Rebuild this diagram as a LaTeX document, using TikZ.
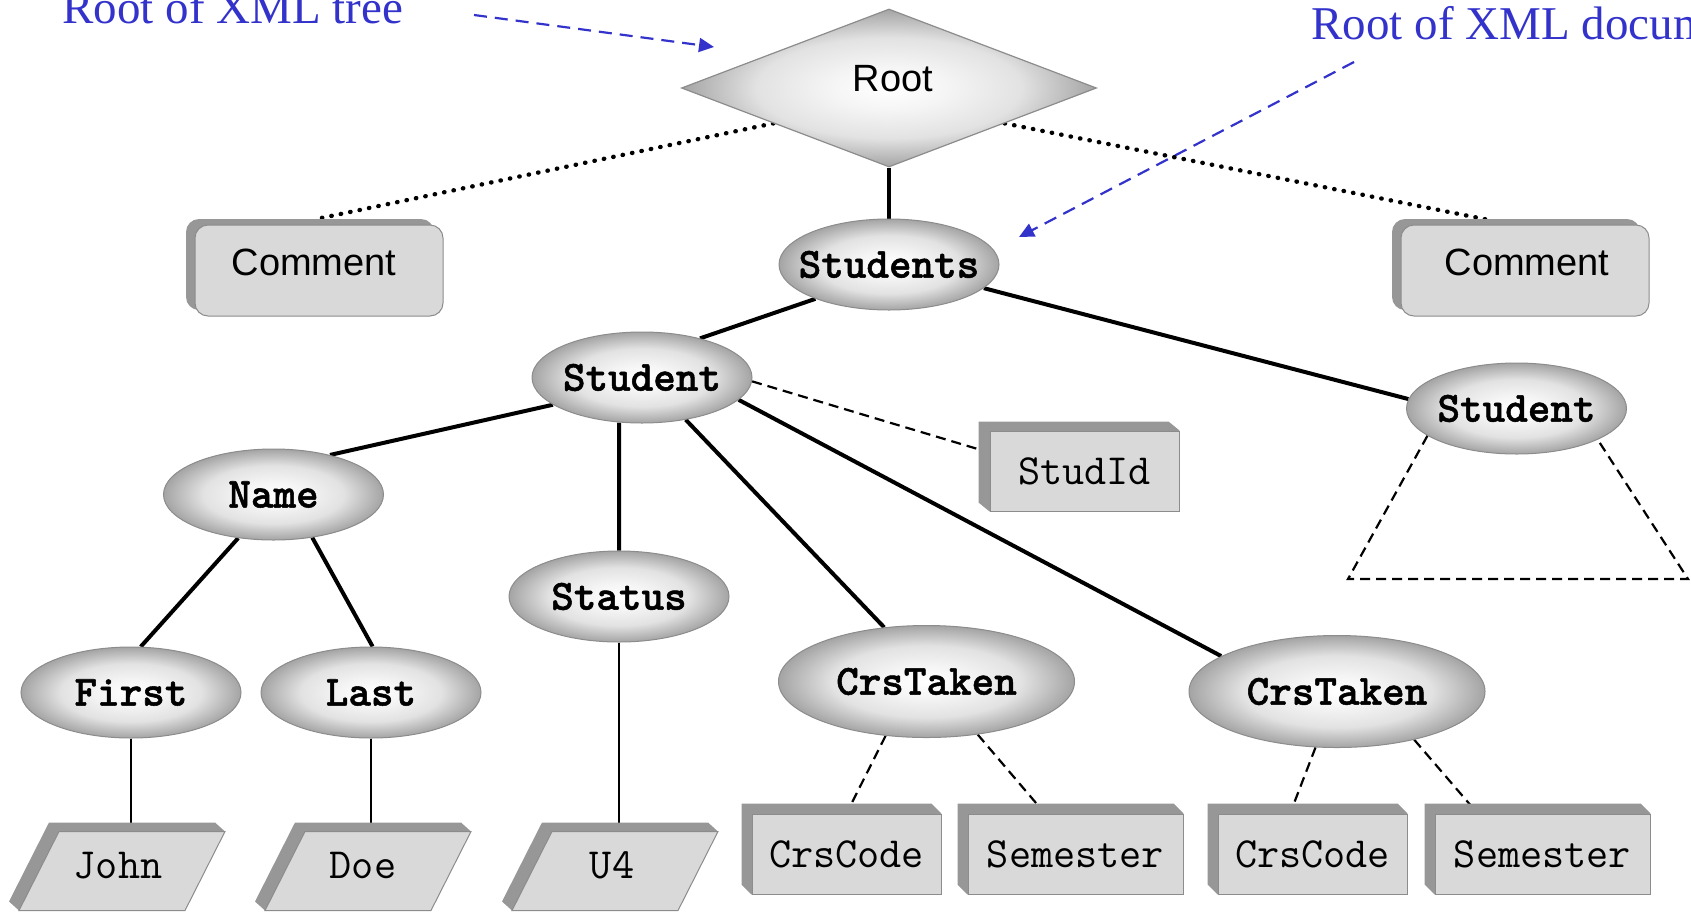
\documentclass[tikz,border=0pt]{standalone}
\usepackage{fontspec}
\usetikzlibrary{shapes.geometric,arrows.meta,shadows}
\newfontfamily\helvfont{Liberation Sans}
\newfontfamily\annotfont{Liberation Serif}
\newfontfamily\elemfont[FakeBold=1.2]{lmmonolt10-bold.otf}
\definecolor{boxgray}{HTML}{D9D9D9}
\definecolor{shadowgray}{HTML}{979797}
\definecolor{edgegray}{HTML}{8C8C8C}
\definecolor{annotblue}{RGB}{51,51,204}
\definecolor{elemouter}{HTML}{A4A4A4}
\definecolor{elemmid}{HTML}{E2E2E2}
\pgfdeclareradialshading{elemshade}{\pgfpoint{0bp}{0bp}}{color(0bp)=(white); color(7bp)=(white!96!black); color(16bp)=(elemmid); color(25bp)=(elemouter); color(50bp)=(elemouter)}
\pgfdeclarelayer{bg}
\pgfdeclarelayer{shd}
\pgfsetlayers{bg,shd,main}
\newcommand{\extrude}[3]{%
  \begin{pgfonlayer}{shd}
  \fill[shadowgray] (#1.south west) -- ++(-#2,#3) -- ([xshift=-#2,yshift=#3]#1.north west) -- ([xshift=-#2,yshift=#3]#1.north east) -- (#1.north east) -- cycle;
  \end{pgfonlayer}}
\newcommand{\slantleaf}[1]{%
  \begin{scope}[shift={#1}]
  \begin{pgfonlayer}{shd}
  \fill[shadowgray] (-103,39.5) -- (-113,30.5) -- (-73,-48.5) -- (93,-48.5) -- (103,-39.5) -- cycle;
  \end{pgfonlayer}
  \draw[edgegray, line width=0.5pt, fill=boxgray] (-63,-39.5) -- (103,-39.5) -- (63,39.5) -- (-103,39.5) -- cycle;
  \end{scope}}
\begin{document}
\begin{tikzpicture}[x=0.5pt,y=-0.5pt,
  elem/.style={ellipse, draw=edgegray, line width=0.5pt, inner sep=0pt, minimum width=110pt, minimum height=45.5pt, shading=elemshade, font=\elemfont\fontsize{21.5}{24}\selectfont},
  bigelem/.style={elem, minimum width=148pt, minimum height=56pt},
  rootshape/.style={diamond, draw=edgegray, line width=0.6pt, inner sep=0pt, minimum width=207.5pt, minimum height=79pt, shading=elemshade},
  commentbox/.style={rectangle, rounded corners=6.5pt, draw=edgegray, line width=0.5pt, fill=boxgray, minimum width=124pt, minimum height=45.5pt, inner sep=0pt, drop shadow={shadow xshift=-4.5pt, shadow yshift=3pt, fill=shadowgray, opacity=1}},
  leafbox/.style={rectangle, draw=edgegray, line width=0.5pt, fill=boxgray, minimum height=40pt, minimum width=94.5pt, inner sep=0pt, font=\ttfamily\fontsize{21.5}{24}\selectfont},
  wideleaf/.style={leafbox, minimum width=107.5pt},
  leaftext/.style={inner sep=0pt, font=\ttfamily\fontsize{21.5}{24}\selectfont},
  labeltext/.style={font=\helvfont\fontsize{19}{22}\selectfont, inner sep=0pt},
  annot/.style={font=\annotfont\fontsize{23.5}{26}\selectfont, text=annotblue, inner sep=0pt},
  strong/.style={line width=2pt},
  fine/.style={line width=0.9pt},
  dashedlink/.style={line width=1.1pt, dash pattern=on 5pt off 3pt},
  dottedlink/.style={line width=2.2pt, line cap=round, dash pattern=on 0.2pt off 4.6pt},
  bluearrow/.style={annotblue, line width=1.1pt, dash pattern=on 6.5pt off 4pt, -{Triangle[length=7.5pt,width=7pt]}}
]
\useasboundingbox (0,0) rectangle (1691,911);

% annotations
\node[annot, anchor=base west] (note1) at (62,23) {Root of XML tree};
\node[annot, anchor=base west] (note2) at (1311,39) {Root of XML document};
\coordinate (a1s) at (474,15);
\coordinate (a1e) at (714,47);
\coordinate (a2s) at (1354,62);
\coordinate (a2e) at (1019,237);

% root
\node[rootshape] (root) at (889,88) {};
\node[labeltext, anchor=base] (roottext) at (893,91) {Root};

% comments
\node[commentbox] (comment1) at (319,270.5) {};
\node[labeltext, anchor=base] (comment1text) at (314,275) {Comment};
\node[commentbox] (comment2) at (1525,270.5) {};
\node[labeltext, anchor=base] (comment2text) at (1527,275) {Comment};

% elements
\node[elem] (students) at (889,264.5) {\makebox[0pt]{Students}};
\node[elem] (studentL) at (642,377.5) {\makebox[0pt]{Student}};
\node[elem] (studentR) at (1516.5,408.5) {\makebox[0pt]{Student}};
\node[elem] (name) at (273.5,494.5) {\makebox[0pt]{Name}};
\node[elem] (status) at (619,596.5) {\makebox[0pt]{Status}};
\node[elem] (first) at (131,692.5) {\makebox[0pt]{First}};
\node[elem] (last) at (371,692.5) {\makebox[0pt]{Last}};
\node[bigelem] (crs1) at (926.5,681.5) {\makebox[0pt]{CrsTaken}};
\node[bigelem] (crs2) at (1337,691.5) {\makebox[0pt]{CrsTaken}};

% attribute boxes
\node[leafbox] (studid) at (1084.5,471) {StudId};
\extrude{studid}{5.5pt}{4.5pt}
\node[leafbox] (code1) at (846.5,854) {CrsCode};
\extrude{code1}{5pt}{5pt}
\node[wideleaf] (sem1) at (1075.5,854) {Semester};
\extrude{sem1}{5pt}{5pt}
\node[leafbox] (code2) at (1312.5,854) {CrsCode};
\extrude{code2}{5pt}{5pt}
\node[wideleaf] (sem2) at (1542.5,854) {Semester};
\extrude{sem2}{5pt}{5pt}

% text leaves
\slantleaf{(122,871)}
\node[leaftext, anchor=base] (john) at (118,878) {John};
\slantleaf{(368,871)}
\node[leaftext, anchor=base] (doe) at (363,878) {Doe};
\slantleaf{(615,871)}
\node[leaftext, anchor=base] (u4) at (612,878) {U4};
\coordinate (johntop) at (131,823);
\coordinate (doetop) at (371,823);
\coordinate (u4top) at (619,824);
\coordinate (tril) at (1348,579);
\coordinate (trir) at (1688,579);

\begin{pgfonlayer}{bg}
\draw[bluearrow] (a1s) -- (a1e);
\draw[bluearrow] (a2s) -- (a2e);
\draw[dottedlink] (root.197.5) -- ([yshift=3pt]comment1.north);
\draw[dottedlink] (root.343.4) -- ([yshift=2pt]comment2.126.8);
\draw[strong] (root.south) -- (students.north);
\draw[strong] (students.205) -- (studentL.34);
\draw[strong] (students.346) -- (studentR.175);
\draw[strong] (studentL.197) -- (name.35);
\draw[strong] (studentL.243) -- (status.north);
\draw[strong] (studentL.316) -- (crs1.128);
\draw[strong] (studentL.347) -- (crs2.163);
\draw[strong] (name.231) -- (first.78);
\draw[strong] (name.312) -- (last.88);
\draw[dashedlink] (studentL.358) -- (studid.169);
\draw[dashedlink] (crs1.233) -- (code1.north);
\draw[dashedlink] (crs1.314) -- (sem1.127);
\draw[dashedlink] (crs2.249) -- (code2.119);
\draw[dashedlink] (crs2.328) -- (sem2.148);
\draw[dashedlink] (studentR.197) -- (tril) -- (trir) -- (studentR.339);
\draw[fine] (first) -- (johntop);
\draw[fine] (last) -- (doetop);
\draw[fine] (status) -- (u4top);
\end{pgfonlayer}
\end{tikzpicture}
\end{document}
